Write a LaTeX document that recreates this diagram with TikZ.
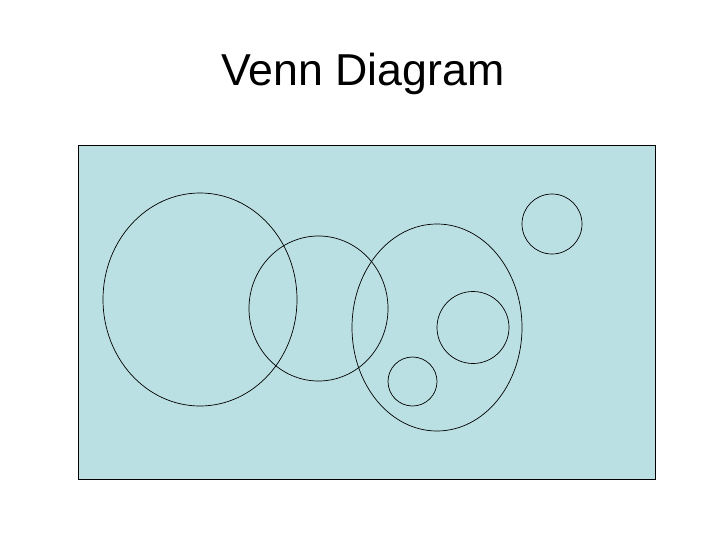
\documentclass[tikz,border=0pt]{standalone}
\usepackage{fontspec}
\setmainfont{Liberation Sans}
\definecolor{panel}{RGB}{187,224,227}
\begin{document}
\begin{tikzpicture}[x=1pt,y=-1pt,
  setline/.style={draw=black,line width=0.7pt}]
\useasboundingbox (0,0) rectangle (728,546);
\fill[white] (0,0) rectangle (728,546);
\node[font=\fontsize{44.7}{50}\selectfont,anchor=base] (title) at (363,85) {Venn Diagram};
\draw[fill=panel,draw=black,line width=1pt] (78,145) rectangle (655,479);
\draw[setline] (200,299.5) ellipse [x radius=97,y radius=106.5];
\draw[setline] (318.5,308.5) ellipse [x radius=69.5,y radius=72.5];
\draw[setline] (437,327.5) ellipse [x radius=85,y radius=103.5];
\draw[setline] (552,224) circle [radius=30];
\draw[setline] (473,327.5) circle [radius=36];
\draw[setline] (412.5,381.5) circle [radius=24.5];
\end{tikzpicture}
\end{document}
